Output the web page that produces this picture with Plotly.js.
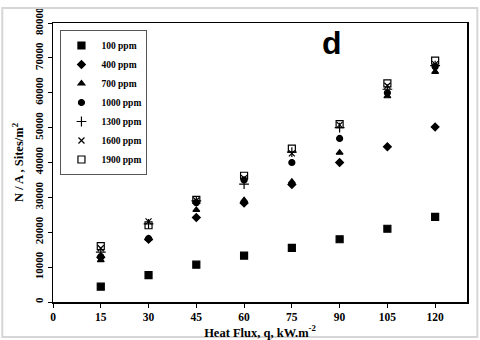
<!DOCTYPE html>
<html>
<head>
<meta charset="utf-8">
<script src="https://cdn.plot.ly/plotly-3.0.1.min.js"></script>
<style>
  html, body { margin: 0; padding: 0; background: #fff; }
  #chart { width: 480px; height: 340px; }
</style>
</head>
<body>
<div id="chart"></div>
<script>
const heatFlux = [15, 30, 45, 60, 75, 90, 105, 120];
const seriesNames = ['100 ppm', '400 ppm', '700 ppm', '1000 ppm', '1300 ppm', '1600 ppm', '1900 ppm'];

const ppm100 = [4400, 7700, 10700, 13300, 15500, 18000, 21000, 24400];
const ppm400 = [12800, 18000, 24200, 28400, 33700, 40000, 44500, 50200];
const ppm700 = [12000, 18100, 26400, 29200, 34500, 42800, 59000, 66000];
const ppm1000 = [13000, 18200, 28500, 35000, 40000, 46900, 60000, 67500];
const ppm1300 = [14300, 22400, 29000, 33800, 43000, 50000, 61000, 67800];
const ppm1600 = [15400, 23100, 29100, 35500, 42600, 50800, 62000, 68200];
const ppm1900 = [16000, 22000, 29300, 36200, 44000, 51000, 62700, 69200];

const seriesValues = [ppm100, ppm400, ppm700, ppm1000, ppm1300, ppm1600, ppm1900];
const symbols = ['square', 'diamond', 'triangle-up', 'circle', 'cross-thin-open', 'x-thin-open', 'square-open'];
const sizes = [7, 6, 6, 6, 7, 6, 7];

const serif = 'Liberation Serif, Times New Roman, serif';

const traces = seriesNames.map((name, i) => ({
  x: heatFlux,
  y: seriesValues[i],
  type: 'scatter',
  mode: 'markers',
  name: name,
  marker: {
    symbol: symbols[i],
    size: sizes[i],
    color: '#000',
    line: { color: '#000', width: 1.2 }
  }
}));

const layout = {
  width: 480,
  height: 340,
  margin: { l: 53, r: 13, t: 23, b: 38 },
  paper_bgcolor: '#fff',
  plot_bgcolor: '#fff',
  font: { family: serif, color: '#000', size: 11, weight: 'bold' },
  showlegend: true,
  legend: {
    x: 0.018, y: 0.975,
    xanchor: 'left', yanchor: 'top',
    bgcolor: '#fff',
    bordercolor: '#555',
    borderwidth: 1,
    font: { family: serif, size: 9.5, weight: 'bold' },
    itemwidth: 30,
    tracegroupgap: 0
  },
  xaxis: {
    range: [0, 130],
    tickvals: [0, 15, 30, 45, 60, 75, 90, 105, 120],
    ticks: 'outside', ticklen: 4, tickcolor: '#000',
    showgrid: false, zeroline: false,
    showline: true, linecolor: '#000', linewidth: 1.5, mirror: true,
    tickfont: { family: serif, size: 11.5, weight: 'bold' },
    title: { text: 'Heat Flux, q, kW.m<sup>-2</sup>', standoff: 4, font: { family: serif, size: 12.5, weight: 'bold' } }
  },
  yaxis: {
    range: [0, 80000],
    dtick: 10000,
    tickformat: 'd',
    tickangle: -90,
    ticks: 'outside', ticklen: 4, tickcolor: '#000',
    showgrid: false, zeroline: false,
    showline: true, linecolor: '#000', linewidth: 1.5, mirror: true,
    tickfont: { family: serif, size: 11, weight: 'bold' },
    title: { text: 'N / A , Sites/m<sup>2</sup>', standoff: 6, font: { family: serif, size: 12.5, weight: 'bold' } }
  },
  annotations: [{
    text: 'd',
    xref: 'paper', yref: 'paper',
    x: 0.675, y: 1.0,
    xanchor: 'center', yanchor: 'top',
    showarrow: false,
    font: { family: 'Liberation Sans, Arial, sans-serif', size: 32, weight: 'bold', color: '#000' }
  }],
  shapes: [{
    type: 'rect', xref: 'paper', yref: 'paper',
    x0: -0.1225, x1: 1.025, y0: -0.125, y1: 1.054,
    line: { color: '#d6d6d6', width: 2 }
  }]
};

Plotly.newPlot('chart', traces, layout, { displayModeBar: false, staticPlot: true });
</script>
</body>
</html>
